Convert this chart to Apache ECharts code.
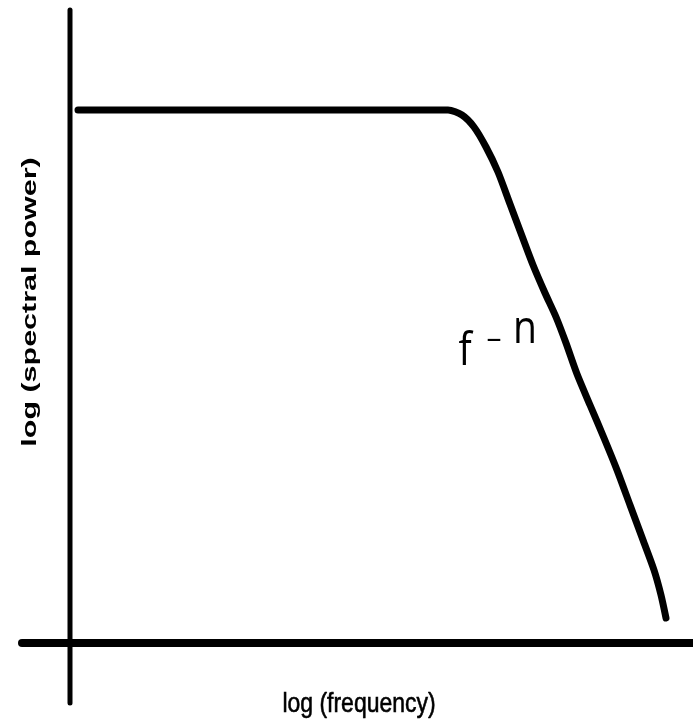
<!DOCTYPE html>
<html>
<head>
<meta charset="utf-8">
<script src="https://cdn.jsdelivr.net/npm/echarts@6/dist/echarts.min.js"></script>
<style>
  html, body { margin: 0; padding: 0; background: #fff; }
  #chart { width: 693px; height: 725px; }
</style>
</head>
<body>
<div id="chart"></div>
<script>
// sketch units: log(frequency) along x, log(spectral power) along y
let logFreq = [0.8, 37.8, 39.2, 40.4, 41.6, 42.8, 44.0, 45.2, 46.3, 47.5, 48.6, 49.6, 50.7,
  52.0, 53.4, 54.7, 56.0, 57.3, 58.4, 59.1, 59.6];
let logPower = [53.3, 53.3, 52.8, 51.6, 49.6, 47.1, 43.9, 40.7, 37.8, 35.0, 32.6, 30.0, 26.9,
  23.8, 20.5, 17.3, 13.8, 10.3, 7.3, 4.8, 2.5];
let xAxisLine = [[-4.8, 0], [62.3, 0]];
let yAxisLine = [[0, 63.3], [0, -6.0]];

let curve = [];
for (let i = 0; i < logFreq.length; i++) {
    curve.push([logFreq[i], logPower[i]]);
}

let chart = echarts.init(document.getElementById("chart"));
chart.setOption({
    animation: false,
    grid: { left: 0, right: 0, top: 0, bottom: 0 },
    xAxis: {
        type: 'value', min: -7.0, max: 62.3,
        show: false
    },
    yAxis: {
        type: 'value', min: -8.2, max: 64.3,
        show: false
    },
    series: [
        {
            type: 'line', data: xAxisLine, symbol: 'none',
            lineStyle: { color: '#000', width: 8, cap: 'round' }
        },
        {
            type: 'line', data: yAxisLine, symbol: 'none',
            lineStyle: { color: '#000', width: 5, cap: 'round' }
        },
        {
            type: 'line', data: curve, symbol: 'none', smooth: 0.25,
            lineStyle: { color: '#000', width: 7, cap: 'round', join: 'round' }
        }
    ],
    graphic: [
        {
            type: 'text', x: 30, y: 302, rotation: Math.PI / 2, scaleX: 1.45,
            style: {
                text: 'log (spectral power)', fill: '#000',
                font: 'bold 21px "Liberation Sans"',
                textAlign: 'center', textVerticalAlign: 'middle'
            }
        },
        {
            type: 'text', x: 359, y: 704, scaleX: 0.82,
            style: {
                text: 'log (frequency)', fill: '#000',
                stroke: '#000', lineWidth: 0.6,
                font: '28px "Liberation Sans"',
                textAlign: 'center', textVerticalAlign: 'middle'
            }
        },
        {
            type: 'text', x: 465, y: 352, scaleX: 0.85,
            style: {
                text: 'f', fill: '#000', font: '46px "Open Sans"',
                textAlign: 'center', textVerticalAlign: 'middle'
            }
        },
        {
            type: 'text', x: 494, y: 339,
            style: {
                text: '–', fill: '#000', font: '30px "Open Sans"',
                textAlign: 'center', textVerticalAlign: 'middle'
            }
        },
        {
            type: 'text', x: 525, y: 330, scaleX: 0.85,
            style: {
                text: 'n', fill: '#000', font: '46px "Open Sans"',
                textAlign: 'center', textVerticalAlign: 'middle'
            }
        }
    ]
});
</script>
</body>
</html>
